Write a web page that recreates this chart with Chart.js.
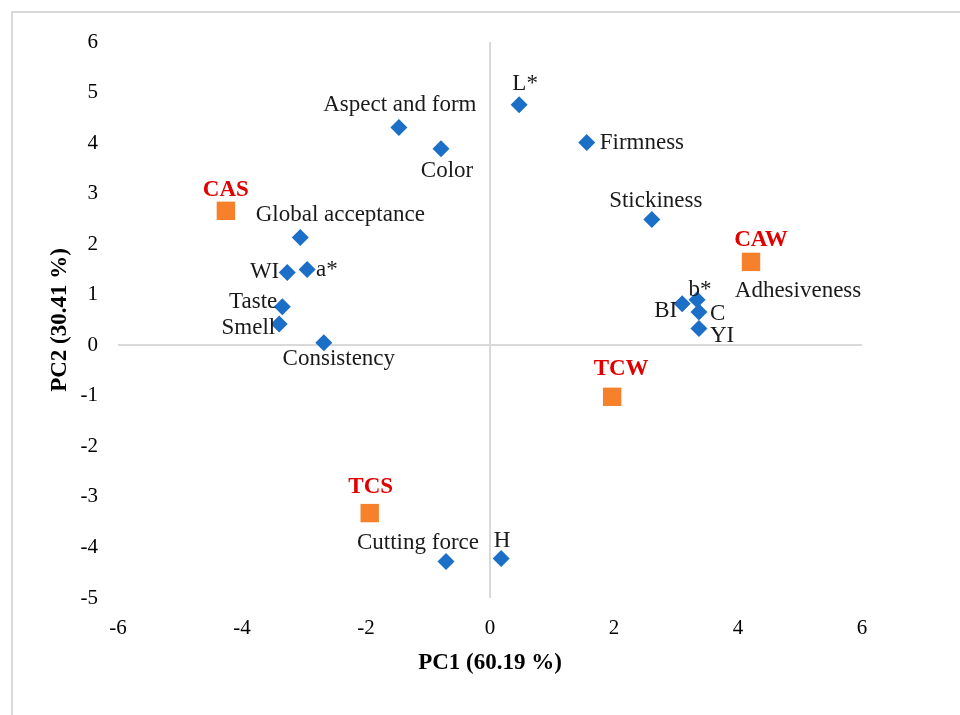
<!DOCTYPE html>
<html>
<head>
<meta charset="utf-8">
<script src="https://cdn.jsdelivr.net/npm/chart.js@4.4.0/dist/chart.umd.min.js"></script>
<style>
  html, body { margin: 0; padding: 0; background: #fff; }
  #wrap { position: relative; width: 960px; height: 715px; overflow: hidden; }
  #frame { position: absolute; left: 11px; top: 11px; width: 1000px; height: 800px;
           border-left: 2px solid #d9d9d9; border-top: 2px solid #d9d9d9; box-sizing: border-box; }
  canvas { position: absolute; left: 0; top: 0; }
</style>
</head>
<body>
<div id="wrap">
  <div id="frame"></div>
  <canvas id="c" width="960" height="715"></canvas>
</div>
<script>
// ---- Data ----
const variableNames = ["L*", "Aspect and form", "Color", "Firmness", "Stickiness", "Global acceptance",
  "WI", "a*", "Taste", "Smell", "Consistency", "BI", "b*", "C", "YI", "Adhesiveness", "Cutting force", "H"];
const variablePC1 = [0.47, -1.47, -0.79, 1.56, 2.61, -3.06, -3.27, -2.95, -3.35, -3.40, -2.68, 3.10, 3.34, 3.37, 3.37, 4.21, -0.71, 0.18];
const variablePC2 = [4.76, 4.31, 3.89, 4.01, 2.49, 2.13, 1.44, 1.50, 0.76, 0.42, 0.05, 0.82, 0.90, 0.66, 0.33, 1.65, -4.28, -4.22];

const sampleNames = ["CAS", "CAW", "TCW", "TCS"];
const samplePC1 = [-4.26, 4.21, 1.97, -1.94];
const samplePC2 = [2.66, 1.65, -1.02, -3.32];

const xTicks = [-6, -4, -2, 0, 2, 4, 6];
const yTicks = [-5, -4, -3, -2, -1, 0, 1, 2, 3, 4, 5, 6];

// ---- label placement (style: offset from the point, alignment) ----
const variableLabelStyle = {
  "L*": [6, -21, "center"],
  "Aspect and form": [1, -22, "center"],
  "Color": [6, 22, "center"],
  "Firmness": [13, 0, "left"],
  "Stickiness": [4, -18, "center"],
  "Global acceptance": [40, -23, "center"],
  "WI": [-8, -1, "right"],
  "a*": [9, 0, "left"],
  "Taste": [-5, -5, "right"],
  "Smell": [-4, 4, "right"],
  "Consistency": [15, 16, "center"],
  "BI": [-5, 7, "right"],
  "b*": [3, -10, "center"],
  "C": [11, 2, "left"],
  "YI": [11, 7, "left"],
  "Adhesiveness": [47, 29, "center"],
  "Cutting force": [-28, -19, "center"],
  "H": [1, -18, "center"]
};
const sampleLabelStyle = {
  "CAS": [0, -21, "center"],
  "CAW": [10, -22, "center"],
  "TCW": [9, -28, "center"],
  "TCS": [1, -26, "center"]
};

const serif = "'Liberation Serif', 'Times New Roman', serif";

const labelPlugin = {
  id: 'pointLabels',
  afterDatasetsDraw(chart) {
    const ctx = chart.ctx;
    ctx.save();
    ctx.textBaseline = 'middle';
    chart.data.datasets.forEach((ds, di) => {
      const meta = chart.getDatasetMeta(di);
      const isSample = di === 1;
      const names = isSample ? sampleNames : variableNames;
      const styles = isSample ? sampleLabelStyle : variableLabelStyle;
      ctx.font = isSample ? "bold 23px " + serif : "23px " + serif;
      ctx.fillStyle = isSample ? "#e00000" : "#1a1a1a";
      meta.data.forEach((pt, i) => {
        const st = styles[names[i]] || [0, -18, "center"];
        ctx.textAlign = st[2];
        ctx.fillText(names[i], pt.x + st[0], pt.y + st[1]);
      });
    });
    ctx.restore();
  }
};

const zeroGrid = (c) => (c.tick && c.tick.value === 0) ? '#d9d9d9' : 'rgba(0,0,0,0)';

new Chart(document.getElementById('c'), {
  type: 'scatter',
  data: {
    datasets: [
      {
        label: 'Variables',
        order: 1,
        data: variablePC1.map((x, i) => ({ x: x, y: variablePC2[i] })),
        pointStyle: 'rectRot',
        pointRadius: 8.5,
        pointHoverRadius: 8.5,
        backgroundColor: '#1c6fc6',
        borderColor: '#1c6fc6',
        borderWidth: 0
      },
      {
        label: 'Samples',
        order: 0,
        data: samplePC1.map((x, i) => ({ x: x, y: samplePC2[i] })),
        pointStyle: 'rect',
        pointRadius: 13,
        pointHoverRadius: 13,
        backgroundColor: '#f7812a',
        borderColor: '#f7812a',
        borderWidth: 0
      }
    ]
  },
  options: {
    responsive: false,
    animation: false,
    events: [],
    layout: { padding: { left: 0, top: 42, right: 98, bottom: 0 } },
    plugins: { legend: { display: false }, tooltip: { enabled: false } },
    scales: {
      x: {
        type: 'linear', min: -6, max: 6,
        afterBuildTicks: (s) => { s.ticks = xTicks.map(v => ({ value: v })); },
        afterFit: (s) => { s.height = 117; },
        grid: { color: zeroGrid, lineWidth: 2, drawTicks: false },
        border: { display: false },
        ticks: { color: '#000', padding: 18, font: { family: serif, size: 21 } },
        title: { display: true, text: 'PC1 (60.19 %)', color: '#000',
                 font: { family: serif, size: 23, weight: 'bold' }, padding: { top: 0, bottom: 38 } }
      },
      y: {
        type: 'linear', min: -5, max: 6,
        afterBuildTicks: (s) => { s.ticks = yTicks.map(v => ({ value: v })); },
        afterFit: (s) => { s.width = 118; },
        grid: { color: zeroGrid, lineWidth: 2, drawTicks: false },
        border: { display: false },
        ticks: { color: '#000', padding: 20, font: { family: serif, size: 21 } },
        title: { display: true, text: 'PC2 (30.41 %)', color: '#000',
                 font: { family: serif, size: 23, weight: 'bold' }, padding: { top: 46, bottom: 0 } }
      }
    }
  },
  plugins: [labelPlugin]
});
</script>
</body>
</html>
